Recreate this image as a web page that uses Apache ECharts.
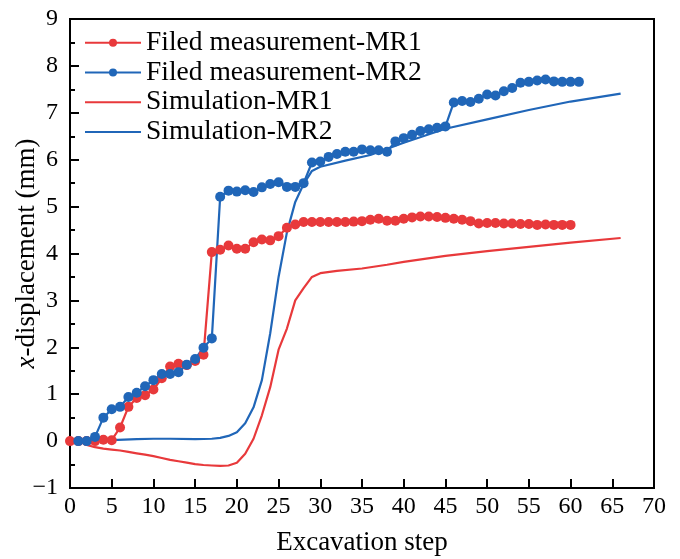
<!DOCTYPE html>
<html>
<head>
<meta charset="utf-8">
<script src="https://cdn.jsdelivr.net/npm/echarts@6/dist/echarts.min.js"></script>
<style>
  html, body { margin: 0; padding: 0; background: #fff; }
  #chart { width: 680px; height: 559px; }
</style>
</head>
<body>
<div id="chart"></div>
<script>
// Field measurements, MR1 (steps 0..60)
var mr1Steps = [];
for (var i = 0; i <= 60; i++) mr1Steps.push(i);
var mr1Measured = [
  0, 0, 0, 0, 0.03, 0.02, 0.29, 0.73, 0.92, 0.98,
  1.10, 1.34, 1.59, 1.65, 1.62, 1.71, 1.84, 4.03, 4.08, 4.17,
  4.10, 4.10, 4.24, 4.30, 4.28, 4.37, 4.55, 4.62, 4.67, 4.67,
  4.67, 4.67, 4.67, 4.67, 4.68, 4.69, 4.72, 4.74, 4.70, 4.70,
  4.74, 4.77, 4.79, 4.79, 4.78, 4.76, 4.74, 4.72, 4.69, 4.64,
  4.65, 4.65, 4.64, 4.64, 4.63, 4.63, 4.61, 4.62, 4.61, 4.61,
  4.61
];

// Field measurements, MR2 (steps 1..61)
var mr2Steps = [];
for (var j = 1; j <= 61; j++) mr2Steps.push(j);
var mr2Measured = [
  0, 0, 0.09, 0.50, 0.68, 0.73, 0.94, 1.03, 1.17, 1.30,
  1.43, 1.43, 1.47, 1.63, 1.75, 1.99, 2.19, 5.21, 5.34, 5.32,
  5.35, 5.31, 5.41, 5.48, 5.52, 5.42, 5.42, 5.50, 5.94, 5.96,
  6.06, 6.12, 6.17, 6.17, 6.22, 6.20, 6.20, 6.17, 6.39, 6.46,
  6.53, 6.61, 6.65, 6.68, 6.71, 7.22, 7.25, 7.23, 7.30, 7.39,
  7.37, 7.46, 7.53, 7.64, 7.66, 7.69, 7.71, 7.67, 7.66, 7.66,
  7.66
];

// Numerical simulation, MR1
var simMr1Steps = [1, 2, 3, 4, 5, 6, 7, 8, 9, 10, 11, 12, 13, 14, 15, 16, 17, 18, 19, 20,
  21, 22, 23, 24, 25, 26, 27, 28, 29, 30, 32, 35, 38, 40, 45, 50, 55, 60, 66];
var simMr1 = [0, -0.08, -0.13, -0.16, -0.18, -0.20, -0.23, -0.26, -0.29, -0.32,
  -0.36, -0.40, -0.43, -0.46, -0.49, -0.51, -0.52, -0.53, -0.52, -0.46,
  -0.27, 0.05, 0.55, 1.15, 1.95, 2.40, 3.00, 3.26, 3.50, 3.58,
  3.63, 3.68, 3.76, 3.82, 3.95, 4.05, 4.14, 4.23, 4.33];

// Numerical simulation, MR2
var simMr2Steps = [1, 2, 5, 8, 10, 12, 15, 17, 18, 19, 20, 21, 22, 23, 24, 25, 26, 27, 28, 29,
  30, 33, 36, 40, 45, 50, 55, 60, 66];
var simMr2 = [0, 0, 0.02, 0.04, 0.05, 0.05, 0.04, 0.05, 0.07, 0.11,
  0.19, 0.38, 0.72, 1.30, 2.30, 3.50, 4.45, 5.10, 5.48, 5.76,
  5.85, 5.98, 6.10, 6.36, 6.66, 6.86, 7.06, 7.24, 7.41];

var seriesNames = ['Filed measurement-MR1', 'Filed measurement-MR2', 'Simulation-MR1', 'Simulation-MR2'];

var RED = '#e8393b';
var BLUE = '#2066b8';
var FONT = 'Liberation Serif';

function pairs(xs, ys) {
  return xs.map(function (x, k) { return [x, ys[k]]; });
}

var chart = echarts.init(document.getElementById('chart'), null, { renderer: 'canvas' });

var tickText = { color: '#000', fontFamily: FONT, fontSize: 24 };
var nameText = { color: '#000', fontFamily: FONT, fontSize: 27 };

chart.setOption({
  animation: false,
  backgroundColor: '#fff',
  grid: {
    left: 70, right: 26, top: 19, bottom: 71,
    containLabel: false,
    outerBoundsMode: 'none',
    show: true, borderColor: '#000', borderWidth: 2, backgroundColor: 'transparent'
  },
  legend: {
    orient: 'vertical',
    left: 79, top: 23,
    itemWidth: 56, itemHeight: 10, itemGap: 0,
    textStyle: { color: '#000', fontFamily: FONT, fontSize: 27.5, lineHeight: 29.7 },
    data: [
      { name: seriesNames[0] },
      { name: seriesNames[1] },
      { name: seriesNames[2], itemStyle: { opacity: 0 } },
      { name: seriesNames[3], itemStyle: { opacity: 0 } }
    ]
  },
  xAxis: {
    type: 'value',
    min: 0, max: 70, interval: 5,
    name: 'Excavation step',
    nameLocation: 'middle',
    nameGap: 41,
    nameMoveOverlap: false,
    nameTextStyle: nameText,
    axisLine: { show: true, onZero: false, lineStyle: { color: '#000', width: 2 } },
    axisTick: { show: true, inside: true, length: 9, lineStyle: { color: '#000', width: 2 } },
    axisLabel: Object.assign({ margin: 7 }, tickText),
    splitLine: { show: false }
  },
  yAxis: {
    type: 'value',
    min: -1, max: 9, interval: 1,
    name: '{i|x}-displacement (mm)',
    nameLocation: 'middle',
    nameGap: 30,
    nameRotate: 90,
    nameMoveOverlap: false,
    nameTextStyle: Object.assign({
      rich: { i: { fontStyle: 'italic', fontFamily: FONT, fontSize: 27, color: '#000' } }
    }, nameText),
    axisLine: { show: true, onZero: false, lineStyle: { color: '#000', width: 2 } },
    axisTick: { show: true, inside: true, length: 9, lineStyle: { color: '#000', width: 2 } },
    minorTick: { show: true, splitNumber: 2, length: 5, lineStyle: { color: '#000', width: 2 } },
    axisLabel: Object.assign({
      margin: 12,
      formatter: function (v) { return v < 0 ? '\u2212' + Math.abs(v) : String(v); }
    }, tickText),
    splitLine: { show: false },
    minorSplitLine: { show: false }
  },
  series: [
    {
      name: seriesNames[0], type: 'line',
      data: pairs(mr1Steps, mr1Measured),
      symbol: 'circle', symbolSize: 10,
      lineStyle: { color: RED, width: 2.2 },
      itemStyle: { color: RED }
    },
    {
      name: seriesNames[1], type: 'line',
      data: pairs(mr2Steps, mr2Measured),
      symbol: 'circle', symbolSize: 10,
      lineStyle: { color: BLUE, width: 2.2 },
      itemStyle: { color: BLUE }
    },
    {
      name: seriesNames[2], type: 'line',
      data: pairs(simMr1Steps, simMr1),
      symbol: 'none',
      lineStyle: { color: RED, width: 2.2 },
      itemStyle: { color: RED }
    },
    {
      name: seriesNames[3], type: 'line',
      data: pairs(simMr2Steps, simMr2),
      symbol: 'none',
      lineStyle: { color: BLUE, width: 2.2 },
      itemStyle: { color: BLUE }
    }
  ]
});
</script>
</body>
</html>
